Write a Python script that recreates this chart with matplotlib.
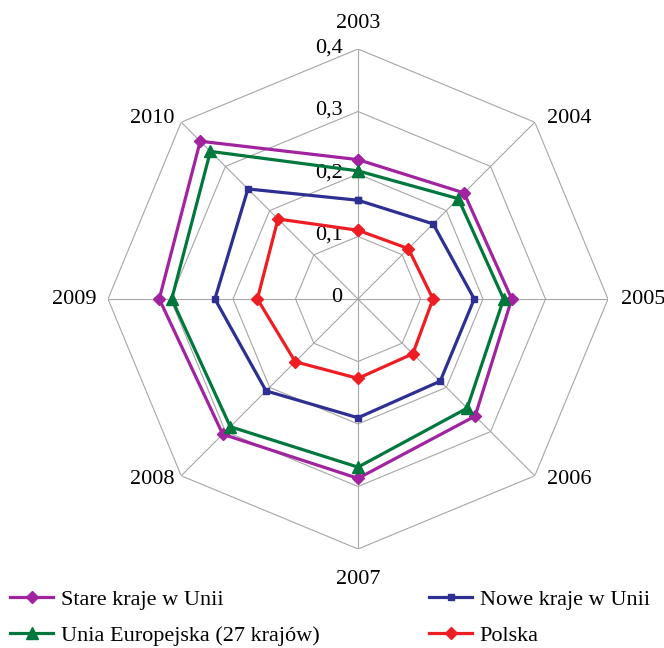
import numpy as np
import matplotlib.pyplot as plt
from matplotlib.lines import Line2D

plt.rcParams['font.family'] = ['Liberation Serif', 'DejaVu Serif']

lata = ['2003', '2004', '2005', '2006', '2007', '2008', '2009', '2010']
stare = [0.223, 0.240, 0.246, 0.265, 0.287, 0.306, 0.318, 0.357]
nowe = [0.158, 0.170, 0.186, 0.186, 0.190, 0.208, 0.229, 0.249]
ue27 = [0.205, 0.227, 0.233, 0.247, 0.269, 0.289, 0.298, 0.334]
polska = [0.110, 0.114, 0.120, 0.124, 0.127, 0.142, 0.161, 0.181]
poziomy = [0.1, 0.2, 0.3, 0.4]
etykiety_r = ['0', '0,1', '0,2', '0,3', '0,4']

kat = np.linspace(0, 2 * np.pi, len(lata), endpoint=False)
kat_z = np.append(kat, kat[0])

fig = plt.figure(figsize=(6.64, 6.48), dpi=100)
ax = fig.add_axes([108 / 664, 99 / 648, 500 / 664, 500 / 648], projection='polar')
ax.set_theta_zero_location('N')
ax.set_theta_direction(-1)
ax.set_ylim(0, 0.4)
ax.grid(False)
ax.set_xticks([])
ax.set_yticks([])
ax.spines['polar'].set_visible(False)

# siatka w ksztalcie osmiokata
szary = '#a6a6a6'
for p in poziomy:
    ax.plot(kat_z, [p] * len(kat_z), color=szary, lw=0.8, zorder=1)
for k in kat:
    ax.plot([k, k], [0, 0.4], color=szary, lw=0.8, zorder=1)

# opisy osi promieniowej
for p, t in zip([0] + poziomy, etykiety_r):
    ax.annotate(t, (0, p), xytext=(-11, 1), textcoords='offset points',
                ha='right', va='center', fontsize=16)

# opisy lat
przes = {0: (0, 11.5, 'center', 'bottom'), 1: (9, 3, 'left', 'center'),
         2: (9, 0, 'left', 'center'), 3: (9, -3, 'left', 'center'),
         4: (0, -15, 'center', 'top'), 5: (-5, -3, 'right', 'center'),
         6: (-8, 0, 'right', 'center'), 7: (-5, 3, 'right', 'center')}
for i, (k, rok) in enumerate(zip(kat, lata)):
    dx, dy, ha, va = przes[i]
    ax.annotate(rok, (k, 0.4), xytext=(dx, dy), textcoords='offset points',
                ha=ha, va=va, fontsize=16)

serie = [
    ('Stare kraje w Unii', stare, '#a1239f', 'D', 6.5),
    ('Nowe kraje w Unii', nowe, '#2d2f92', 's', 4),
    ('Unia Europejska (27 krajów)', ue27, '#00773c', '^', 8.5),
    ('Polska', polska, '#ee1d24', 'D', 6.5),
]
uchwyty = {}
for nazwa, wart, kol, mk, ms in serie:
    w = np.append(wart, wart[0])
    ax.plot(kat_z, w, color=kol, lw=2.3, marker=mk, markersize=ms,
            markeredgecolor=kol, zorder=3, clip_on=False)
    uchwyty[nazwa] = Line2D([], [], color=kol, lw=2.3, marker=mk,
                            markersize=ms, markeredgecolor=kol)

kolejnosc = ['Stare kraje w Unii', 'Unia Europejska (27 krajów)',
             'Nowe kraje w Unii', 'Polska']
fig.legend([uchwyty[n] for n in kolejnosc], kolejnosc, ncol=2,
           loc='upper left', bbox_to_anchor=(0.009, 0.097), frameon=False,
           fontsize=16, handlelength=1.9, handletextpad=0.36,
           columnspacing=4.95, labelspacing=0.67, borderaxespad=0,
           borderpad=0.2)

fig.savefig('out.png', dpi=100)
